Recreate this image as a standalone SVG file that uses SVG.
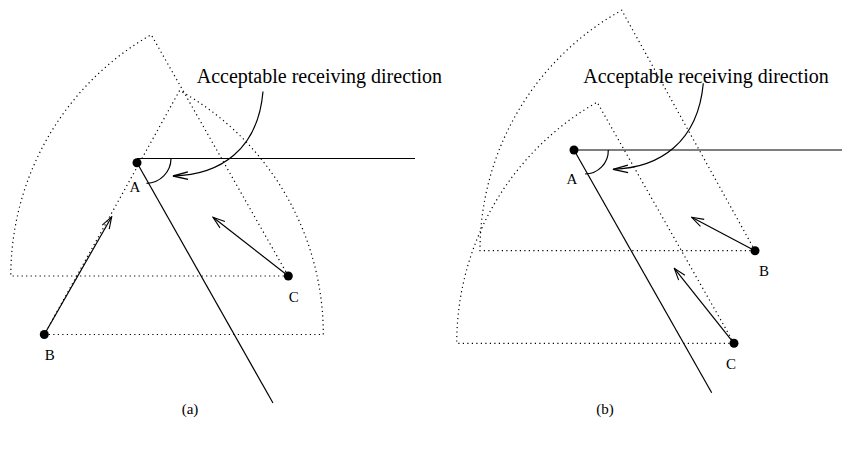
<svg xmlns="http://www.w3.org/2000/svg" width="842" height="458" viewBox="0 0 842 458">
<style>
.bg{fill:#fff}
.dot{fill:#000}
.sol{fill:none;stroke:#000;stroke-width:1.2}
.dotted{fill:none;stroke:#000;stroke-width:1.2;stroke-dasharray:1.2 3.3}
.lbl{font-family:"Liberation Serif","Times New Roman",serif;font-size:15px;fill:#000;text-anchor:middle}
.note{font-family:"Liberation Serif","Times New Roman",serif;font-size:20px;fill:#000}
</style>
<defs>
<marker id="ah" markerUnits="userSpaceOnUse" markerWidth="14" markerHeight="10" refX="13" refY="5" orient="auto">
<path d="M1,1 L13,5 L1,9" fill="none" stroke="#000" stroke-width="1.1"/>
</marker>
<marker id="ah2" markerUnits="userSpaceOnUse" markerWidth="17" markerHeight="10" refX="16" refY="5" orient="auto">
<path d="M1,1.2 L16,5 L1,8.8" fill="none" stroke="#000" stroke-width="1.3"/>
</marker>
</defs>
<rect class="bg" x="0" y="0" width="842" height="458"/>

<g id="sectors">
<path class="dotted" d="M288.3,276 L10.8,276 A277.5,277.5 0 0 1 151.2,34.7 Z"/>
<path class="dotted" d="M44.3,334.5 L323.3,334.5 A279,279 0 0 0 179.6,90.5 Z"/>
<path class="dotted" d="M755,250.7 L480,250.7 A275,275 0 0 1 621.7,10.2 Z"/>
<path class="dotted" d="M734,343.3 L456.7,343.3 A277.3,277.3 0 0 1 597.1,102.2 Z"/>
</g>

<g id="connectors">
<line class="sol" x1="137" y1="158.5" x2="415" y2="158.5"/>
<line class="sol" x1="137" y1="162.7" x2="273" y2="403"/>
<path class="sol" d="M171,158.5 A25,25 0 0 1 146.5,183.3"/>
<path class="sol" d="M263,91.5 C258,150 220,175 173,176" marker-end="url(#ah2)"/>
<line class="sol" x1="44.3" y1="334.5" x2="111.7" y2="216.7" marker-end="url(#ah)"/>
<line class="sol" x1="288.3" y1="276" x2="213" y2="217.3" marker-end="url(#ah)"/>

<line class="sol" x1="574" y1="150" x2="842" y2="150"/>
<line class="sol" x1="574" y1="150" x2="711.7" y2="392.7"/>
<path class="sol" d="M608.3,150 A23.5,23.5 0 0 1 585,174"/>
<path class="sol" d="M703.3,83.3 C698,142 660,168 613,169.3" marker-end="url(#ah2)"/>
<line class="sol" x1="755" y1="250.7" x2="691.7" y2="217.3" marker-end="url(#ah)"/>
<line class="sol" x1="734" y1="343.3" x2="674.3" y2="268.3" marker-end="url(#ah)"/>
</g>

<g id="a-A"><circle class="dot" cx="137" cy="162.7" r="4.5"/><text class="lbl" x="135" y="191.7">A</text></g>
<g id="a-B"><circle class="dot" cx="44.3" cy="334.5" r="4.5"/><text class="lbl" x="49.7" y="360">B</text></g>
<g id="a-C"><circle class="dot" cx="288.3" cy="276" r="4.5"/><text class="lbl" x="293.8" y="301.5">C</text></g>
<g id="b-A"><circle class="dot" cx="574" cy="150" r="4.5"/><text class="lbl" x="572" y="183.5">A</text></g>
<g id="b-B"><circle class="dot" cx="755" cy="250.7" r="4.5"/><text class="lbl" x="764" y="276">B</text></g>
<g id="b-C"><circle class="dot" cx="734" cy="343.3" r="4.5"/><text class="lbl" x="731" y="368.5">C</text></g>

<g id="notes">
<text class="note" x="196.7" y="82.7">Acceptable receiving direction</text>
<text class="note" x="583.3" y="82.7">Acceptable receiving direction</text>
<text class="lbl" x="190" y="414">(a)</text>
<text class="lbl" x="605" y="414">(b)</text>
</g>
</svg>
